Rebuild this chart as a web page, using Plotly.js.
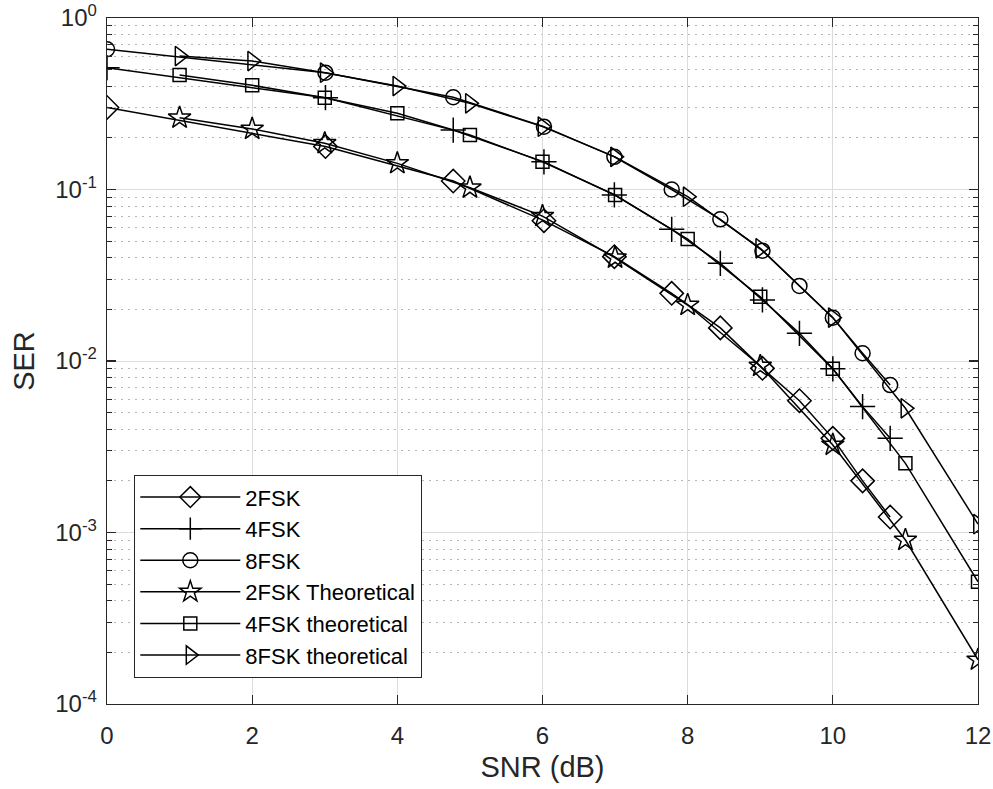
<!DOCTYPE html>
<html>
<head>
<meta charset="utf-8">
<script src="https://cdn.plot.ly/plotly-3.0.1.min.js"></script>
<style>html,body{margin:0;padding:0;background:#fff;}#chart{width:993px;height:789px;}</style>
</head>
<body>
<div id="chart"></div>
<script>
// Simulated SNR points (dB)
const snrSim = [0, 3.01, 4.77, 6.02, 6.99, 7.78, 8.45, 9.03, 9.54, 10, 10.41, 10.79];
// Theoretical SNR points (dB)
const snrTh = [1, 2, 3, 4, 5, 6, 7, 8, 9, 10, 11, 12];

const ser2FSK = [0.301, 0.178, 0.112, 0.0658, 0.0406, 0.0248, 0.0156, 0.00906, 0.00587, 0.00354, 0.00200, 0.00123];
const ser4FSK = [0.513, 0.343, 0.222, 0.145, 0.093, 0.0586, 0.0371, 0.0227, 0.0145, 0.0090, 0.00542, 0.00354];
const ser8FSK = [0.657, 0.480, 0.345, 0.2325, 0.155, 0.100, 0.067, 0.044, 0.0274, 0.0179, 0.0111, 0.00724];

const ser2FSKTh = [0.262, 0.2253, 0.186, 0.142, 0.1024, 0.070, 0.0400, 0.0212, 0.00935, 0.00324, 0.000904, 0.000181];
const ser4FSKTh = [0.465, 0.405, 0.343, 0.278, 0.208, 0.145, 0.0929, 0.0514, 0.0237, 0.0090, 0.00253, 0.000516];
const ser8FSKTh = [0.600, 0.561, 0.480, 0.401, 0.318, 0.2325, 0.155, 0.0908, 0.0454, 0.0179, 0.00530, 0.00112];

const seriesNames = ["2FSK", "4FSK", "8FSK", "2FSK Theoretical", "4FSK theoretical", "8FSK theoretical"];

const xTicks = [0, 2, 4, 6, 8, 10, 12];
const yTickVals = [1e-4, 1e-3, 1e-2, 1e-1, 1];
const yTickText = ["10<sup>-4</sup>", "10<sup>-3</sup>", "10<sup>-2</sup>", "10<sup>-1</sup>", "10<sup>0</sup>"];

// minor tick positions (2..9 within each decade)
const yMinor = [];
for (let d = -4; d < 0; d++) { for (let m = 2; m <= 9; m++) yMinor.push(m * Math.pow(10, d)); }

const ink = "#262626";
function tr(x, y, name, symbol, size) {
  return {
    x: x, y: y, name: name, type: "scatter", mode: "lines+markers",
    line: {color: "#000", width: 1.5},
    marker: {symbol: symbol, size: size, color: "#000", line: {color: "#000", width: 1.5}}
  };
}

const data = [
  tr(snrSim, ser2FSK, seriesNames[0], "diamond-open", 18),
  tr(snrSim, ser4FSK, seriesNames[1], "cross-thin-open", 18),
  tr(snrSim, ser8FSK, seriesNames[2], "circle-open", 15),
  tr(snrTh, ser2FSKTh, seriesNames[3], "star-open", 17),
  tr(snrTh, ser4FSKTh, seriesNames[4], "square-open", 13),
  tr(snrTh, ser8FSKTh, seriesNames[5], "triangle-right-open", 17)
];

const font = "'Liberation Sans', Arial, Helvetica, sans-serif";

const layout = {
  width: 993, height: 789,
  margin: {l: 107, r: 15, t: 18, b: 85},
  paper_bgcolor: "#fff", plot_bgcolor: "#fff",
  font: {family: font, color: ink, size: 24},
  showlegend: true,
  legend: {
    x: 0.031, y: 0.038, xanchor: "left", yanchor: "bottom",
    bgcolor: "#fff", bordercolor: ink, borderwidth: 1.3,
    font: {family: font, size: 22, color: "#000"},
    itemwidth: 100, tracegroupgap: 0
  },
  xaxis: {
    range: [0, 12], tickvals: xTicks, ticks: "inside", ticklen: 9, tickwidth: 1.2, tickcolor: ink,
    showline: true, linecolor: ink, linewidth: 1.3, mirror: "ticks",
    showgrid: true, gridcolor: "#dcdcdc", gridwidth: 1, zeroline: false,
    tickfont: {size: 24, color: ink}, ticklabelstandoff: 10,
    title: {text: "SNR (dB)", font: {size: 29, color: ink}, standoff: 8}
  },
  yaxis: {
    type: "log", range: [-4, 0], tickvals: yTickVals, ticktext: yTickText,
    ticks: "inside", ticklen: 9, tickwidth: 1.2, tickcolor: ink,
    showline: true, linecolor: ink, linewidth: 1.3, mirror: "ticks",
    showgrid: true, gridcolor: "#dcdcdc", gridwidth: 1, zeroline: false,
    tickfont: {size: 24, color: ink}, ticklabelstandoff: 4,
    minor: {tickvals: yMinor, ticks: "inside", ticklen: 5, tickcolor: ink, tickwidth: 1,
            showgrid: true, gridcolor: "#b5b5b5", griddash: "2px,5px", gridwidth: 1},
    title: {text: "SER", font: {size: 29, color: ink}, standoff: 12}
  }
};

Plotly.newPlot("chart", data, layout, {staticPlot: true, displayModeBar: false});
</script>
</body>
</html>
